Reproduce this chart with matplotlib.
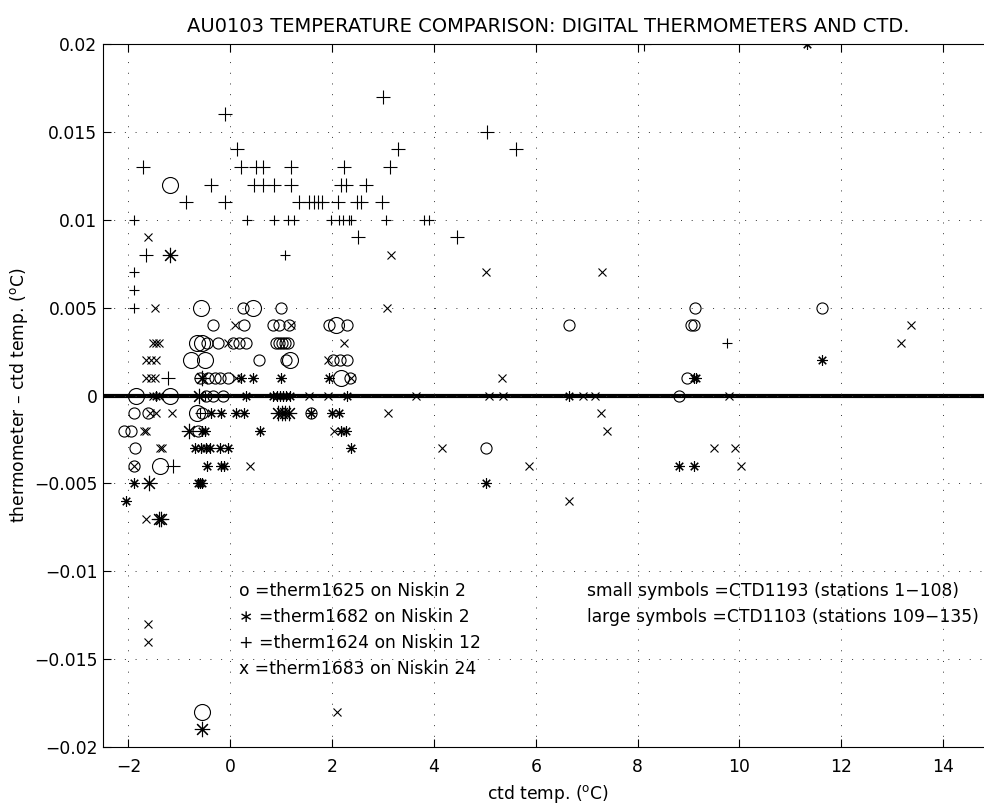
import matplotlib
matplotlib.use("Agg")
import matplotlib.pyplot as plt
import numpy as np
from matplotlib.ticker import FuncFormatter

plt.rcParams['font.family'] = ['DejaVu Sans']
plt.rcParams['mathtext.default'] = 'regular'

# y values are in units of 0.001 degC (thermometer resolution)
o_small_x = [0.99, 9.13, 11.62, 0.24,
             -0.33, 0.26, 0.83, 0.96, 1.16, 1.94, 2.30, 6.66, 9.05, 9.10,
             -0.45, -0.25, 0.05, 0.18, 0.30, 0.90, 0.96, 1.02, 1.08, 1.14,
             0.57, 1.10, 2.01, 2.16, 2.30,
             -0.60, -0.44, -0.31, -0.21, -0.05, 2.35, 8.97,
             -0.48, -0.34, -0.14, 8.81,
             -1.90, -1.62, -0.55, 1.59,
             -2.08, -1.95, -0.64,
             -1.88, 5.02,
             -1.90]
o_small_y = [5, 5, 5, 5,
             4, 4, 4, 4, 4, 4, 4, 4, 4, 4,
             3, 3, 3, 3, 3, 3, 3, 3, 3, 3,
             2, 2, 2, 2, 2,
             1, 1, 1, 1, 1, 1, 1,
             0, 0, 0, 0,
             -1, -1, -1, -1,
             -2, -2, -2,
             -3, -3,
             -4]

o_large_x = [-1.18, -0.57, 0.45, 2.07, -0.65, -0.55, -0.77, -0.50, 1.17, 2.17,
             -1.85, -1.18, -0.66, -1.38, -0.55]
o_large_y = [12, 5, 5, 4, 3, 3, 2, 2, 2, 1,
             0, 0, -1, -4, -18]

star_small_x = [11.32, 11.62,
                0.22, 0.44, 0.99, 1.93, 9.10, 9.14,
                -1.45, 0.31, 0.84, 0.92, 0.98, 1.04, 1.10, 1.18, 2.30, 6.65,
                -0.38, -0.18, 0.12, 0.26, 1.59, 2.00, 2.13,
                -0.55, -0.49, 0.58, 2.17, 2.27,
                -0.70, -0.57, -0.47, -0.40, -0.21, -0.05, 2.37,
                -0.45, -0.19, -0.13, 8.81, 9.10,
                -1.90, -0.64, -0.60, -0.56, 5.02,
                -2.05]
star_small_y = [20, 2,
                1, 1, 1, 1, 1, 1,
                0, 0, 0, 0, 0, 0, 0, 0, 0, 0,
                -1, -1, -1, -1, -1, -1, -1,
                -2, -2, -2, -2, -2,
                -3, -3, -3, -3, -3, -3, -3,
                -4, -4, -4, -4, -4,
                -5, -5, -5, -5, -5,
                -6]

star_large_x = [-1.18, -0.55, -0.62, 0.94, 1.02, 1.08, 1.16, -0.81, -1.59, -1.40, -1.36, -0.55]
star_large_y = [8, 1, 0, -1, -1, -1, -1, -2, -5, -7, -7, -19]

plus_small_x = [0.32, 0.86, 1.13, 1.26, -1.89, 1.08, -1.89, -1.89, -1.90,
                1.98, 2.14, 2.22, 2.34, 2.38, 3.06, 3.81, 3.90, 9.76, -0.50, -0.60]
plus_small_y = [10, 10, 10, 10, 10, 8, 7, 6, 5,
                10, 10, 10, 10, 10, 10, 10, 10, 3, 0, -1]

plus_large_x = [-0.10, -1.71, -0.38, -0.87, -0.10, 0.14, 0.21, 0.50, 0.64, 1.20,
                0.47, 0.64, 0.86, 1.20, -1.66, 2.99, 3.30, 5.04, 5.62, 2.24,
                3.14, 2.17, 2.27, 2.67, 1.34, 1.55, 1.65, 1.73, 1.80, 2.11,
                2.48, 2.57, 2.98, 8.13, 2.50, 4.45, -1.23, -1.13]
plus_large_y = [16, 13, 12, 11, 11, 14, 13, 13, 13, 13,
                12, 12, 12, 12, 8, 17, 14, 15, 14, 13,
                13, 12, 12, 12, 11, 11, 11, 11, 11, 11,
                11, 11, 11, 20, 9, 9, 1, -4]

cross_x = [-1.61, 3.16, 5.02, 7.31, -1.48, 3.08,
           0.10, 1.19, 13.36,
           -1.52, -1.45, -1.40, -0.05, 2.24, 13.17,
           -1.65, -1.55, -1.45, 1.91,
           -1.65, -1.56, -1.47, 0.12, 2.37, 5.33,
           -1.52, -1.40, 1.55, 1.91, 3.65, 5.09, 5.35, 6.92, 7.17, 9.79,
           -1.58, -1.46, -1.14, 3.09, 7.28,
           -1.69, -1.66, 2.04, 7.40,
           -1.38, -1.34, 4.16, 9.51, 9.92,
           -1.90, 0.38, 5.87, 10.03,
           6.66, -1.66, -1.62, -1.62, 2.10]
cross_y = [9, 8, 7, 7, 5, 5,
           4, 4, 4,
           3, 3, 3, 3, 3, 3,
           2, 2, 2, 2,
           1, 1, 1, 1, 1, 1,
           0, 0, 0, 0, 0, 0, 0, 0, 0, 0,
           -1, -1, -1, -1, -1,
           -2, -2, -2, -2,
           -3, -3, -3, -3, -3,
           -4, -4, -4, -4,
           -6, -7, -13, -14, -18]

legend_left = ['o =therm1625 on Niskin 2', '\u2217 =therm1682 on Niskin 2',
               '+ =therm1624 on Niskin 12', 'x =therm1683 on Niskin 24']
legend_right = ['small symbols =CTD1193 (stations 1\u2212108)',
                'large symbols =CTD1103 (stations 109\u2212135)']

STAR = (8, 2, 0)
FS = 12.3


def mk(vals):
    return np.array(vals) * 1e-3


fig = plt.figure(figsize=(9.84, 8.06), dpi=100)
ax = fig.add_axes([103 / 984, 1 - 747 / 806, 891 / 984, 703 / 806])

kw = dict(linestyle='none', color='black', markerfacecolor='none', markeredgewidth=0.8)
ax.plot(o_small_x, mk(o_small_y), marker='o', markersize=8, **kw)
ax.plot(o_large_x, mk(o_large_y), marker='o', markersize=11.5, **kw)
ax.plot(star_small_x, mk(star_small_y), marker=STAR, markersize=7.5, **kw)
ax.plot(star_large_x, mk(star_large_y), marker=STAR, markersize=11, **kw)
ax.plot(plus_small_x, mk(plus_small_y), marker='+', markersize=7, **kw)
ax.plot(plus_large_x, mk(plus_large_y), marker='+', markersize=10, **kw)
ax.plot(cross_x, mk(cross_y), marker='x', markersize=6, **kw)

ax.axhline(0, color='black', linewidth=3, zorder=1)

ax.set_xlim(-2.5, 15)
ax.set_ylim(-0.02, 0.02)
ax.set_xticks(np.arange(-2, 15, 2))
ax.set_yticks(np.arange(-0.02, 0.0201, 0.005))
ax.yaxis.set_major_formatter(FuncFormatter(lambda v, p: ('%g' % round(v, 4)).replace('-', '\u2212')))
ax.xaxis.set_major_formatter(FuncFormatter(lambda v, p: ('%g' % v).replace('-', '\u2212')))
ax.grid(True, color='0.2', linestyle=(0, (1, 10)), linewidth=0.7)
ax.tick_params(direction='in', top=True, right=True, length=5.5, labelsize=FS, width=0.8)
ax.tick_params(axis='x', pad=8)
ax.tick_params(axis='y', pad=4)
for s in ax.spines.values():
    s.set_linewidth(0.8)

for i, t in enumerate(legend_left):
    ax.text(0.18, -0.0111 - i * 0.00148, t, fontsize=FS, va='center', ha='left')
for i, t in enumerate(legend_right):
    ax.text(7.0, -0.0111 - i * 0.00148, t, fontsize=FS, va='center', ha='left')

ax.set_xlabel('ctd temp. ($^{o}$C)', fontsize=FS, labelpad=5)
ax.set_ylabel('thermometer \u2013 ctd temp. ($^{o}$C)', fontsize=FS, labelpad=3)
ax.set_title('AU0103 TEMPERATURE COMPARISON: DIGITAL THERMOMETERS AND CTD.',
             fontsize=14, pad=9)

fig.savefig('out.png', dpi=100)
